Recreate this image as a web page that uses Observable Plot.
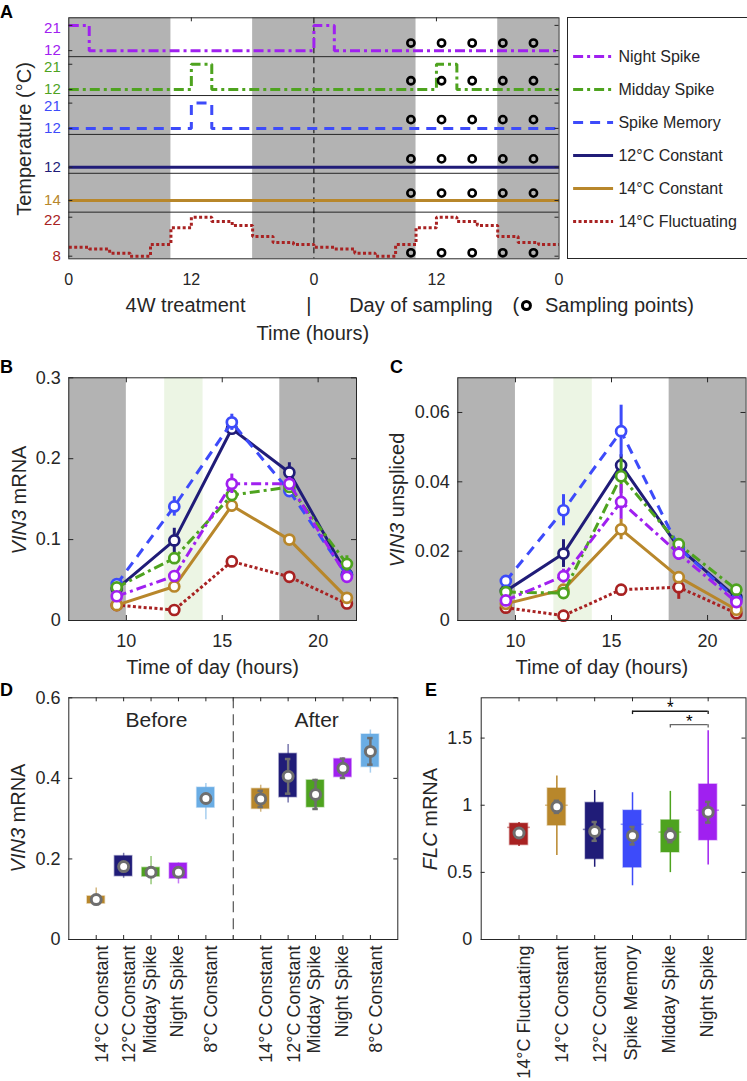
<!DOCTYPE html>
<html>
<head>
<meta charset="utf-8">
<script src="https://cdn.jsdelivr.net/npm/d3@7"></script>
<script src="https://cdn.jsdelivr.net/npm/@observablehq/plot@0.6"></script>
<style>
html,body{margin:0;padding:0;background:#fff;}
#fig{position:relative;width:747px;height:1081px;overflow:hidden;font-family:"Liberation Sans",Arial,sans-serif;color:#262626;}
#fig svg{position:absolute;}
.plab{position:absolute;font-weight:bold;font-size:18px;line-height:1;font-family:"Liberation Sans",Arial,sans-serif;color:#000;}
</style>
</head>
<body>
<div id="fig"></div>
<script>
// ================= DATA =================
const seriesNames = ["Night Spike", "Midday Spike", "Spike Memory", "12°C Constant", "14°C Constant", "14°C Fluctuating"];
const seriesColors = ["#a020f0", "#4ea31f", "#3d4bfa", "#201c78", "#b8872b", "#a82222"];
const seriesDash = ["10,4,3,4", "10,4,3,4", "10,7", undefined, undefined, "3,2.4"];

// Panel A: temperature regimes, [hour, °C] (step changes), 2 days
const nightSpikeTemp = [[0, 21], [2, 12], [24, 21], [26, 12], [48, 12]];
const middaySpikeTemp = [[0, 12], [12, 21], [14, 12], [36, 21], [38, 12], [48, 12]];
const spikeMemoryTemp = [[0, 12], [12, 21], [14, 12], [48, 12]];
const constant12Temp = [[0, 12], [48, 12]];
const constant14Temp = [[0, 14], [48, 14]];
const fluctuatingSteps = [11.2, 10.6, 9.1, 8, 12.2, 18.2, 22, 20.5, 19, 15.1, 12.9, 12.2]; // each 2 h from 0:00
const rowTickHigh = [21, 21, 21, null, null, 22];
const rowTickLow = [12, 12, 12, 12, 14, 8];
const darkPeriods = [[0, 10], [18, 34], [42, 48]];
const samplingHours = [33.5, 36.5, 39.5, 42.5, 45.5];
const axisHoursA = [0, 12, 24, 36, 48];

// Panels B and C: time course
const sampleTimes = [9.5, 12.5, 15.5, 18.5, 21.5];
const vin3NightSpike = [0.030, 0.055, 0.169, 0.169, 0.054];
const vin3MiddaySpike = [0.041, 0.077, 0.155, 0.165, 0.070];
const vin3SpikeMemory = [0.045, 0.141, 0.245, 0.160, 0.056];
const vin3Constant12 = [0.039, 0.099, 0.237, 0.183, 0.057];
const vin3Constant14 = [0.019, 0.042, 0.142, 0.100, 0.028];
const vin3Fluctuating = [0.019, 0.013, 0.073, 0.054, 0.021];
const vin3ErrNightSpike = [0.003, 0.005, 0.012, 0.008, 0.005];
const vin3ErrMiddaySpike = [0.003, 0.006, 0.006, 0.005, 0.010];
const vin3ErrSpikeMemory = [0.004, 0.012, 0.010, 0.006, 0.005];
const vin3ErrConstant12 = [0.003, 0.015, 0.006, 0.012, 0.004];
const vin3ErrConstant14 = [0.002, 0.005, 0.008, 0.004, 0.003];
const vin3ErrFluctuating = [0.002, 0.002, 0.004, 0.004, 0.003];

const unsNightSpike = [0.0058, 0.0128, 0.0342, 0.0193, 0.0053];
const unsMiddaySpike = [0.0082, 0.0079, 0.0416, 0.0220, 0.0089];
const unsSpikeMemory = [0.0114, 0.0318, 0.0546, 0.0210, 0.0060];
const unsConstant12 = [0.0085, 0.0193, 0.0448, 0.0210, 0.0067];
const unsConstant14 = [0.0048, 0.0089, 0.0263, 0.0125, 0.0031];
const unsFluctuating = [0.0037, 0.0014, 0.0089, 0.0096, 0.0021];
const unsErrNightSpike = [0.001, 0.002, 0.005, 0.002, 0.001];
const unsErrMiddaySpike = [0.001, 0.001, 0.005, 0.001, 0.001];
const unsErrSpikeMemory = [0.0015, 0.0045, 0.0075, 0.002, 0.001];
const unsErrConstant12 = [0.001, 0.004, 0.003, 0.002, 0.001];
const unsErrConstant14 = [0.001, 0.001, 0.003, 0.0015, 0.001];
const unsErrFluctuating = [0.001, 0.001, 0.001, 0.0035, 0.001];

const tcDark = [[7, 10], [18, 22]];
const tcSpikeWindow = [12, 14];
const tcTicks = [10, 15, 20];

// Panel D: VIN3 mRNA before / after
const dLabels = ["14°C Constant", "12°C Constant", "Midday Spike", "Night Spike", "8°C Constant",
                 "14°C Constant", "12°C Constant", "Midday Spike", "Night Spike", "8°C Constant"];
const dPhase = ["Before", "Before", "Before", "Before", "Before", "After", "After", "After", "After", "After"];
const dColors = ["#b8872b", "#201c78", "#4ea31f", "#a020f0", "#6aade4", "#b8872b", "#201c78", "#4ea31f", "#a020f0", "#6aade4"];
const dWhiskerLow = [0.084, 0.152, 0.136, 0.138, 0.297, 0.316, 0.339, 0.327, 0.401, 0.413];
const dQ1 = [0.089, 0.157, 0.156, 0.151, 0.327, 0.324, 0.353, 0.328, 0.403, 0.428];
const dQ3 = [0.107, 0.207, 0.178, 0.189, 0.377, 0.374, 0.461, 0.395, 0.448, 0.509];
const dWhiskerHigh = [0.128, 0.214, 0.206, 0.190, 0.387, 0.383, 0.484, 0.398, 0.452, 0.520];
const dMean = [0.099, 0.181, 0.167, 0.167, 0.350, 0.349, 0.405, 0.360, 0.425, 0.467];
const dMeanErr = [0.005, 0.008, 0.006, 0.006, 0.008, 0.020, 0.043, 0.036, 0.024, 0.033];
const dTicks = [0, 0.2, 0.4, 0.6];

// Panel E: FLC mRNA
const eLabels = ["14°C Fluctuating", "14°C Constant", "12°C Constant", "Spike Memory", "Midday Spike", "Night Spike"];
const eColors = ["#a82222", "#b8872b", "#201c78", "#3d4bfa", "#4ea31f", "#a020f0"];
const eWhiskerLow = [0.692, 0.625, 0.538, 0.400, 0.498, 0.555];
const eQ1 = [0.703, 0.848, 0.598, 0.535, 0.648, 0.738];
const eMedian = [0.835, 1.000, 0.820, 0.858, 0.800, 0.963];
const eQ3 = [0.863, 1.125, 1.018, 0.960, 0.888, 1.155];
const eWhiskerHigh = [0.872, 1.218, 1.110, 1.093, 1.103, 1.555];
const eMean = [0.793, 0.988, 0.805, 0.773, 0.775, 0.948];
const eMeanErr = [0.030, 0.045, 0.070, 0.065, 0.050, 0.077];
const eSigPairs = [["Spike Memory", "Night Spike"], ["Midday Spike", "Night Spike"]];
const eSigLevel = [1.7, 1.6];
const eTicks = [0, 0.5, 1, 1.5];

// ================= HELPERS =================
const FONT = '"Liberation Sans", Arial, Helvetica, sans-serif';
const INK = "#262626";
const GREY = "#b3b3b3";
const MEAN_GREY = "#6e6e6e";
const fig = document.getElementById("fig");
function place(svg, left, top) { svg.style.left = left + "px"; svg.style.top = top + "px"; fig.appendChild(svg); return svg; }
function style(size) { return {fontFamily: FONT, fontSize: size + "px", color: INK, background: "transparent", overflow: "visible"}; }
function yTitle(svg, x, y, parts, size = 20) {
  const t = d3.select(svg).append("text")
    .attr("transform", `translate(${x},${y}) rotate(-90)`)
    .attr("text-anchor", "middle").attr("dy", "0.35em")
    .attr("fill", INK).style("font-size", size + "px").style("font-family", FONT);
  for (const [s, it] of parts) t.append("tspan").text(s).style("font-style", it ? "italic" : "normal");
}
function panelLabel(ch, left, top) {
  const d = document.createElement("div"); d.className = "plab"; d.textContent = ch;
  d.style.left = left + "px"; d.style.top = top + "px"; fig.appendChild(d);
}

// ================= PANEL A =================
const rowBase = [5.2, 4.2, 3.2, 2.2, 1.2, 0];
function rowY(r, T) {
  return r === 5 ? rowBase[r] + 0.067 + (T - 8) / 14 * 1.003
                 : rowBase[r] + 0.155 + (T - 12) / 9 * 0.65;
}
const circleLevel = [5.55, 4.58, 3.58, 2.57, 1.69, 0.154];
const fluctuatingTemp = [];
for (const day of [0, 24]) fluctuatingSteps.forEach((T, i) => fluctuatingTemp.push([day + 2 * i, T]));
fluctuatingTemp.push([48, fluctuatingSteps[fluctuatingSteps.length - 1]]);
const aTemps = [nightSpikeTemp, middaySpikeTemp, spikeMemoryTemp, constant12Temp, constant14Temp, fluctuatingTemp];
const aHighLabels = rowTickHigh.map((T, r) => T == null ? null : {y: rowY(r, T), t: String(T), c: seriesColors[r]}).filter(Boolean);
const aLowLabels = rowTickLow.map((T, r) => ({y: rowY(r, T), t: String(T), c: seriesColors[r]}));
const aAllLevels = aHighLabels.concat(aLowLabels);
const aSamples = seriesNames.flatMap((n, r) => samplingHours.map(h => ({h, y: circleLevel[r]})));
const aFW = 566 - 68.3 - 7.5, aFH = 345 - 17.3 - 86.7;

const aSvg = Plot.plot({
  width: 566, height: 345,
  marginLeft: 68.3, marginRight: 7.5, marginTop: 17.3, marginBottom: 86.7,
  style: style(16),
  color: {type: "identity"},
  x: {domain: [0, 48]},
  y: {domain: [0, 6.2], axis: null},
  marks: [
    Plot.rect(darkPeriods, {x1: d => d[0], x2: d => d[1], fill: GREY}),
    Plot.ruleY(rowBase.slice(0, 5), {stroke: INK, strokeWidth: 1}),
    Plot.ruleX([24], {stroke: "#000", strokeWidth: 1, strokeDasharray: "6,4"}),
    ...aTemps.map((temps, r) => Plot.line(temps, {
      x: d => d[0], y: d => rowY(r, d[1]), curve: "step-after",
      stroke: seriesColors[r], strokeWidth: 3, strokeDasharray: seriesDash[r],
      strokeLinecap: "butt", strokeLinejoin: "miter"
    })),
    Plot.dot(aSamples, {x: "h", y: "y", r: 3.6, fill: "none", stroke: "#000", strokeWidth: 2.6}),
    Plot.text(aHighLabels, {x: 0, y: "y", text: "t", fill: "c", textAnchor: "end", dx: -8, dy: 3, fontSize: 15}),
    Plot.text(aLowLabels, {x: 0, y: "y", text: "t", fill: "c", textAnchor: "end", dx: -8, dy: -0.5, fontSize: 15}),
    Plot.tickY(aAllLevels, {y: "y", insetRight: aFW - 4, stroke: INK}),
    Plot.tickY(aAllLevels, {y: "y", insetLeft: aFW - 4, stroke: INK}),
    Plot.tickX([12, 36], {x: d => d, insetBottom: aFH - 4, stroke: INK}),
    Plot.axisX({ticks: axisHoursA, tickFormat: d => String(d % 24), tickSize: 0, tickPadding: 15.3, label: null}),
    Plot.text(["4W treatment"], {x: 11.43, text: d => d, frameAnchor: "bottom", lineAnchor: "middle", dy: 46.7, fontSize: 20}),
    Plot.text(["|"], {x: 23.51, text: d => d, frameAnchor: "bottom", lineAnchor: "middle", dy: 46.7, fontSize: 20}),
    Plot.text(["Day of sampling"], {x: 27.45, text: d => d, frameAnchor: "bottom", lineAnchor: "middle", dy: 46.7, fontSize: 20, textAnchor: "start"}),
    Plot.text(["("], {x: 43.44, text: d => d, frameAnchor: "bottom", lineAnchor: "middle", dy: 46.7, fontSize: 20, textAnchor: "start"}),
    Plot.dot([44.81], {x: d => d, frameAnchor: "bottom", dy: 46.7, r: 4, fill: "none", stroke: "#000", strokeWidth: 3}),
    Plot.text(["Sampling points)"], {x: 46.63, text: d => d, frameAnchor: "bottom", lineAnchor: "middle", dy: 46.7, fontSize: 20, textAnchor: "start"}),
    Plot.text(["Time (hours)"], {x: 23.9, text: d => d, frameAnchor: "bottom", lineAnchor: "middle", dy: 74.7, fontSize: 20}),
    Plot.frame({stroke: INK})
  ]
});
place(aSvg, 0, 0);
yTitle(aSvg, 24.2, 139, [["Temperature (°C)", false]]);

const legSvg = Plot.plot({
  width: 180, height: 241, margin: 0,
  style: style(16),
  x: {domain: [0, 1], axis: null},
  y: {type: "point", domain: seriesNames, range: [22.7, 220.7], axis: null},
  marks: [
    ...seriesNames.map((n, i) => Plot.ruleY([n], {y: d => d, x1: 0.034, x2: 0.256, stroke: seriesColors[i], strokeWidth: 3, strokeDasharray: seriesDash[i], strokeLinecap: "butt"})),
    Plot.text(seriesNames, {y: d => d, x: 0.283, text: d => d, textAnchor: "start"}),
    Plot.frame({stroke: INK})
  ]
});
place(legSvg, 566.7, 17.3);

// ================= PANELS B, C =================
function timeCourse(o) {
  const FH = 242.7, FW = o.width - o.marginLeft - o.marginRight;
  const marks = [
    Plot.rect(tcDark, {x1: d => d[0], x2: d => d[1], fill: GREY}),
    Plot.rect([tcSpikeWindow], {x1: d => d[0], x2: d => d[1], fill: "#ecf5e4"}),
    Plot.tickX(tcTicks, {x: d => d, insetTop: FH - 5, stroke: INK}),
    Plot.tickX(tcTicks, {x: d => d, insetBottom: FH - 5, stroke: INK}),
    Plot.tickY(o.yTicks, {y: d => d, insetRight: FW - 5, stroke: INK}),
    Plot.tickY(o.yTicks, {y: d => d, insetLeft: FW - 5, stroke: INK})
  ];
  for (const s of [5, 4, 3, 2, 1, 0]) {
    const pts = sampleTimes.map((t, i) => ({t, v: o.values[s][i], e: o.errors[s][i]}));
    marks.push(
      Plot.line(pts, {x: "t", y: "v", stroke: seriesColors[s], strokeWidth: 3, strokeDasharray: seriesDash[s], strokeLinecap: "butt"}),
      Plot.ruleX(pts, {x: "t", y1: d => d.v - d.e, y2: d => d.v + d.e, stroke: seriesColors[s], strokeWidth: 3}),
      Plot.dot(pts, {x: "t", y: "v", r: 5, fill: "white", stroke: seriesColors[s], strokeWidth: 2.7})
    );
  }
  marks.push(
    Plot.axisX({ticks: tcTicks, tickSize: 0, tickPadding: 13.5, label: null}),
    Plot.axisY({ticks: o.yTicks, tickFormat: d => String(d), tickSize: 0, tickPadding: o.tickPadding, label: null}),
    Plot.text(["Time of day (hours)"], {text: d => d, frameAnchor: "bottom", lineAnchor: "middle", dy: 46.7, fontSize: 20}),
    Plot.frame({stroke: INK})
  );
  return Plot.plot({
    width: o.width, height: 350, marginLeft: o.marginLeft, marginRight: o.marginRight, marginTop: 47.3, marginBottom: 60,
    style: style(18),
    x: {domain: [7, 22]}, y: {domain: o.yDomain},
    marks
  });
}
const bSvg = timeCourse({
  width: 370, marginLeft: 68.3, marginRight: 14, yDomain: [0, 0.3], yTicks: [0, 0.1, 0.2, 0.3], tickPadding: 8,
  values: [vin3NightSpike, vin3MiddaySpike, vin3SpikeMemory, vin3Constant12, vin3Constant14, vin3Fluctuating],
  errors: [vin3ErrNightSpike, vin3ErrMiddaySpike, vin3ErrSpikeMemory, vin3ErrConstant12, vin3ErrConstant14, vin3ErrFluctuating]
});
place(bSvg, 0, 330);
yTitle(bSvg, 19.2, 170, [["VIN3", true], [" mRNA", false]]);

const cSvg = timeCourse({
  width: 367, marginLeft: 77.3, marginRight: 1.5, yDomain: [0, 0.07], yTicks: [0, 0.02, 0.04, 0.06], tickPadding: 8,
  values: [unsNightSpike, unsMiddaySpike, unsSpikeMemory, unsConstant12, unsConstant14, unsFluctuating],
  errors: [unsErrNightSpike, unsErrMiddaySpike, unsErrSpikeMemory, unsErrConstant12, unsErrConstant14, unsErrFluctuating]
});
place(cSvg, 380, 330);
yTitle(cSvg, 16.7, 170, [["VIN3", true], [" unspliced", false]]);

// ================= PANELS D, E =================
function boxPanel(o) {
  const FH = 396 - 12.3 - 142, FW = o.width - o.marginLeft - o.marginRight;
  const rows = o.rows;
  const deg = rows.filter(d => d.label.includes("°")), plain = rows.filter(d => !d.label.includes("°"));
  const marks = [
    Plot.tickX(o.slots, {x: d => d, insetTop: FH - 4, stroke: INK}),
    Plot.tickX(o.slots, {x: d => d, insetBottom: FH - 4, stroke: INK}),
    Plot.tickY(o.yTicks, {y: d => d, insetRight: FW - 4, stroke: INK}),
    Plot.tickY(o.yTicks, {y: d => d, insetLeft: FW - 4, stroke: INK}),
    ...(o.before || []),
    Plot.ruleX(rows, {x: "x", y1: "lo", y2: "hi", stroke: "color", strokeWidth: 1.5, strokeOpacity: o.whiskerOpacity}),
    Plot.rect(rows, {x1: d => d.x - o.halfW, x2: d => d.x + o.halfW, y1: "q1", y2: "q3", fill: "color", stroke: "color", strokeOpacity: 0.35, strokeWidth: 1.5})
  ];
  if (o.medHalf) marks.push(Plot.ruleY(rows, {y: "med", x1: d => d.x - o.medHalf, x2: d => d.x + o.medHalf, stroke: "color", strokeWidth: 1.5, strokeOpacity: 0.55}));
  marks.push(
    Plot.ruleX(rows, {x: "x", y1: d => d.mean - d.err, y2: d => d.mean + d.err, stroke: MEAN_GREY, strokeWidth: 2.5}),
    Plot.ruleY(rows, {y: d => d.mean - d.err, x1: d => d.x - o.capHalf, x2: d => d.x + o.capHalf, stroke: MEAN_GREY, strokeWidth: 2.5}),
    Plot.ruleY(rows, {y: d => d.mean + d.err, x1: d => d.x - o.capHalf, x2: d => d.x + o.capHalf, stroke: MEAN_GREY, strokeWidth: 2.5}),
    Plot.dot(rows, {x: "x", y: "mean", r: 5, fill: "white", stroke: MEAN_GREY, strokeWidth: 3}),
    Plot.text(deg, {x: "x", text: "label", frameAnchor: "bottom", lineAnchor: "middle", rotate: -90, textAnchor: "end", dy: 6, dx: 5.7}),
    Plot.text(plain, {x: "x", text: "label", frameAnchor: "bottom", lineAnchor: "middle", rotate: -90, textAnchor: "end", dy: 6, dx: -1}),
    ...(o.after || []),
    Plot.axisY({ticks: o.yTicks, tickFormat: d => String(d), tickSize: 0, tickPadding: o.tickPadding, label: null}),
    Plot.frame({stroke: INK})
  );
  return Plot.plot({
    width: o.width, height: 396, marginLeft: o.marginLeft, marginRight: o.marginRight, marginTop: 12.3, marginBottom: 142,
    style: style(18),
    color: {type: "identity"},
    x: {domain: o.xDomain, axis: null}, y: {domain: o.yDomain},
    marks
  });
}

const dRows = dLabels.map((label, i) => ({
  label, color: dColors[i], x: i + 1 + (dPhase[i] === "After" ? 1 : 0),
  lo: dWhiskerLow[i], q1: dQ1[i], q3: dQ3[i], hi: dWhiskerHigh[i], mean: dMean[i], err: dMeanErr[i]
}));
const dSvg = boxPanel({
  width: 410, marginLeft: 68.3, marginRight: 12.7, xDomain: [0, 12], yDomain: [0, 0.6], yTicks: dTicks, tickPadding: 8.3,
  rows: dRows, slots: d3.range(1, 12), halfW: 0.32, capHalf: 0.1, whiskerOpacity: 0.6,
  before: [Plot.ruleX([6], {stroke: "#555", strokeWidth: 1.2, strokeDasharray: "11,6"})],
  after: [
    Plot.text(["Before"], {x: 3.2, y: 0.545, text: d => d, fontSize: 21}),
    Plot.text(["After"], {x: 9.04, y: 0.545, text: d => d, fontSize: 21})
  ]
});
place(dSvg, 0, 685);
yTitle(dSvg, 18.3, 133, [["VIN3", true], [" mRNA", false]]);

const eRows = eLabels.map((label, i) => ({
  label, color: eColors[i], x: i + 1,
  lo: eWhiskerLow[i], q1: eQ1[i], med: eMedian[i], q3: eQ3[i], hi: eWhiskerHigh[i], mean: eMean[i], err: eMeanErr[i]
}));
const eSlot = name => eLabels.indexOf(name) + 1;
const eBrackets = eSigPairs.map(([a, b], i) => ({x1: eSlot(a), x2: eSlot(b), y: eSigLevel[i], c: i === 0 ? "#1a1a1a" : "#666666"}));
const eBracketEnds = eBrackets.flatMap(b => [{x: b.x1, y: b.y, c: b.c}, {x: b.x2, y: b.y, c: b.c}]);
const eSvg = boxPanel({
  width: 347, marginLeft: 80.7, marginRight: 1.5, xDomain: [0, 7], yDomain: [0, 1.8], yTicks: eTicks, tickPadding: 9,
  rows: eRows, slots: d3.range(1, 7), halfW: 0.24, capHalf: 0.07, medHalf: 0.3, whiskerOpacity: 1,
  after: [
    Plot.ruleY(eBrackets, {y: "y", x1: "x1", x2: "x2", stroke: "c", strokeWidth: 1.3}),
    Plot.ruleX(eBracketEnds, {x: "x", y1: d => d.y - 0.025, y2: "y", stroke: "c", strokeWidth: 1.3}),
    Plot.text(eBrackets, {x: d => (d.x1 + d.x2) / 2, y: "y", text: () => "*", fontSize: 17, dy: -3.6, fill: "#000"})
  ]
});
place(eSvg, 400, 685);
yTitle(eSvg, 30, 134, [["FLC", true], [" mRNA", false]]);

// panel letters
panelLabel("A", 0, 3);
panelLabel("B", 0, 358);
panelLabel("C", 390, 358);
panelLabel("D", 0, 681);
panelLabel("E", 425, 681);
</script>
</body>
</html>
